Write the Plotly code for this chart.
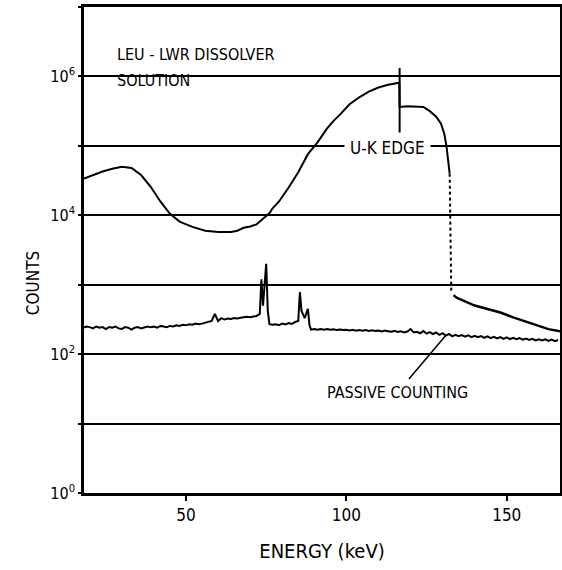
import plotly.graph_objects as go

# ---- Active (dissolver solution) spectrum ----
active_energy = [18.2, 21, 24, 27, 30, 33, 36, 39, 42, 45, 48, 52, 56, 60, 64, 66, 68, 70, 72, 74,
                 76, 77, 79, 82, 85, 88, 91, 94, 96, 98, 101, 104, 107, 110, 113, 116.5,
                 116.6, 119, 122, 124, 126, 128, 129.5, 130.5, 131.2, 132.2]
active_counts = [33900, 38000, 42700, 46800, 50100, 47900, 38000, 25700, 15800, 10500, 8100, 6800,
                 6000, 5750, 5750, 6000, 6600, 6900, 7400, 8900, 10700, 12600, 15800, 25100, 41700,
                 75900, 112000, 178000, 229000, 282000, 398000, 501000, 603000, 692000, 759000, 813000,
                 363000, 372000, 372000, 363000, 316000, 263000, 209000, 151000, 100000, 39800]

drop_energy = [132.2, 132.4, 132.7]
drop_counts = [39800, 4000, 800]

tail_energy = [133.4, 134.5, 137, 140, 144, 148, 152, 156, 160, 163, 166.6]
tail_counts = [708, 646, 575, 501, 447, 398, 339, 295, 251, 229, 214]

# ---- Passive counting spectrum ----
passive_energy = [18, 19, 20, 21, 22, 23, 24, 25, 26, 27, 28, 29, 30, 31, 32, 33, 34, 35, 36, 37,
                  38, 39, 40, 41, 42, 43, 44, 45, 46, 47, 48, 49, 50, 51, 52, 53, 54, 55, 56, 57,
                  58, 59, 60, 61, 62, 63, 64, 65, 66, 67, 68, 69, 70, 71, 72, 73, 73.5, 74, 74.5,
                  75, 75.5, 76, 77, 78, 79, 80, 81, 82, 83, 84, 85, 85.5, 86, 87, 88, 88.5, 89, 90,
                  91, 92, 93, 94, 95, 96, 97, 98, 99, 100, 101, 102, 103, 104, 105, 106, 107, 108,
                  109, 110, 111, 112, 113, 114, 115, 116, 117, 118, 119, 120, 121, 122, 123, 124,
                  125, 126, 127, 128, 129, 130, 131, 132, 133, 134, 135, 136, 137, 138, 139, 140,
                  141, 142, 143, 144, 145, 146, 147, 148, 149, 150, 151, 152, 153, 154, 155, 156,
                  157, 158, 159, 160, 161, 162, 163, 164, 165, 166]
passive_counts = [240, 250, 245, 235, 250, 240, 245, 230, 245, 240, 250, 235, 230, 245, 240, 225, 240,
                  245, 235, 240, 250, 245, 250, 240, 255, 250, 245, 255, 250, 260, 255, 265, 260, 270,
                  265, 275, 270, 275, 285, 290, 300, 380, 300, 330, 315, 325, 320, 330, 325, 335, 340,
                  345, 340, 350, 355, 380, 1200, 500, 900, 2000, 420, 270, 265, 270, 262, 275, 268,
                  280, 272, 290, 300, 780, 420, 330, 450, 260, 225, 230, 225, 230, 225, 230, 225, 228,
                  222, 226, 222, 225, 220, 224, 218, 222, 218, 222, 216, 220, 215, 218, 212, 218, 214,
                  210, 216, 208, 214, 206, 212, 230, 205, 210, 200, 215, 198, 208, 195, 205, 190, 200,
                  185, 195, 180, 190, 182, 188, 178, 186, 176, 184, 175, 182, 172, 180, 170, 178, 168,
                  176, 166, 174, 165, 172, 164, 170, 162, 168, 160, 166, 158, 164, 157, 163, 155, 162,
                  154, 160]

x_ticks = [50, 100, 150]
y_ticks = [1, 10, 100, 1000, 10000, 100000, 1000000, 10000000]
y_ticktext = ["10<sup>0</sup>", "", "10<sup>2</sup>", "", "10<sup>4</sup>", "", "10<sup>6</sup>", ""]

FONT = "DejaVu Sans Condensed, DejaVu Sans, sans-serif"

fig = go.Figure()
line = dict(color="black", width=2)
fig.add_trace(go.Scatter(x=active_energy, y=active_counts, mode="lines", line=line))
fig.add_trace(go.Scatter(x=drop_energy, y=drop_counts, mode="lines",
                         line=dict(color="black", width=2, dash="dot")))
fig.add_trace(go.Scatter(x=tail_energy, y=tail_counts, mode="lines", line=dict(color="black", width=2.5)))
fig.add_trace(go.Scatter(x=passive_energy, y=passive_counts, mode="lines", line=line))

fig.update_layout(
    width=562, height=570,
    margin=dict(l=84, r=2, t=7, b=77),
    paper_bgcolor="white", plot_bgcolor="white",
    showlegend=False,
    font=dict(family=FONT, color="black", size=16),
    xaxis=dict(range=[18.2, 166.6], tickvals=x_ticks, ticks="outside", ticklen=5, tickwidth=2,
               tickcolor="black", showline=True, linewidth=2.5, linecolor="black", mirror=True,
               showgrid=False, zeroline=False, automargin=False, tickfont=dict(size=17, family=FONT),
               title=dict(text="ENERGY (keV)", font=dict(size=20, family=FONT), standoff=20)),
    yaxis=dict(type="log", range=[0, 7], tickmode="array", tickvals=y_ticks, ticktext=y_ticktext,
               ticks="outside", ticklen=3, tickwidth=2, tickcolor="black",
               showline=True, linewidth=2.5, linecolor="black", mirror=True,
               showgrid=True, gridcolor="black", gridwidth=2, zeroline=False, automargin=False,
               tickfont=dict(size=16, family=FONT)),
)

# U-K edge marker line
fig.add_shape(type="line", xref="x", yref="y", x0=116.6, x1=116.6, y0=123000, y1=1320000,
              line=dict(color="black", width=2))
# Passive counting pointer
fig.add_shape(type="line", xref="x", yref="y", x0=119.5, x1=131.1, y0=44, y1=189,
              line=dict(color="black", width=1.5))

fig.add_annotation(x=-0.132, y=0.432, xref="paper", yref="paper", text="COUNTS", textangle=-90,
                   showarrow=False, font=dict(size=17, family=FONT))
fig.add_annotation(x=112.7, y=4.97, xref="x", yref="y", text="U-K EDGE", showarrow=False,
                   bgcolor="white", borderpad=5, font=dict(size=17, family=FONT))
fig.add_annotation(x=0.066, y=0.925, xref="paper", yref="paper", text="LEU - LWR DISSOLVER",
                   showarrow=False, xanchor="left", font=dict(size=16, family=FONT))
fig.add_annotation(x=0.066, y=0.872, xref="paper", yref="paper", text="SOLUTION",
                   showarrow=False, xanchor="left", font=dict(size=16, family=FONT))
fig.add_annotation(x=93.3, y=1.45, xref="x", yref="y", text="PASSIVE COUNTING", showarrow=False,
                   xanchor="left", font=dict(size=16, family=FONT))

fig.write_html("out.html", config={"displayModeBar": False},
               post_script="document.body.style.margin='0';document.body.style.overflow='hidden';")
